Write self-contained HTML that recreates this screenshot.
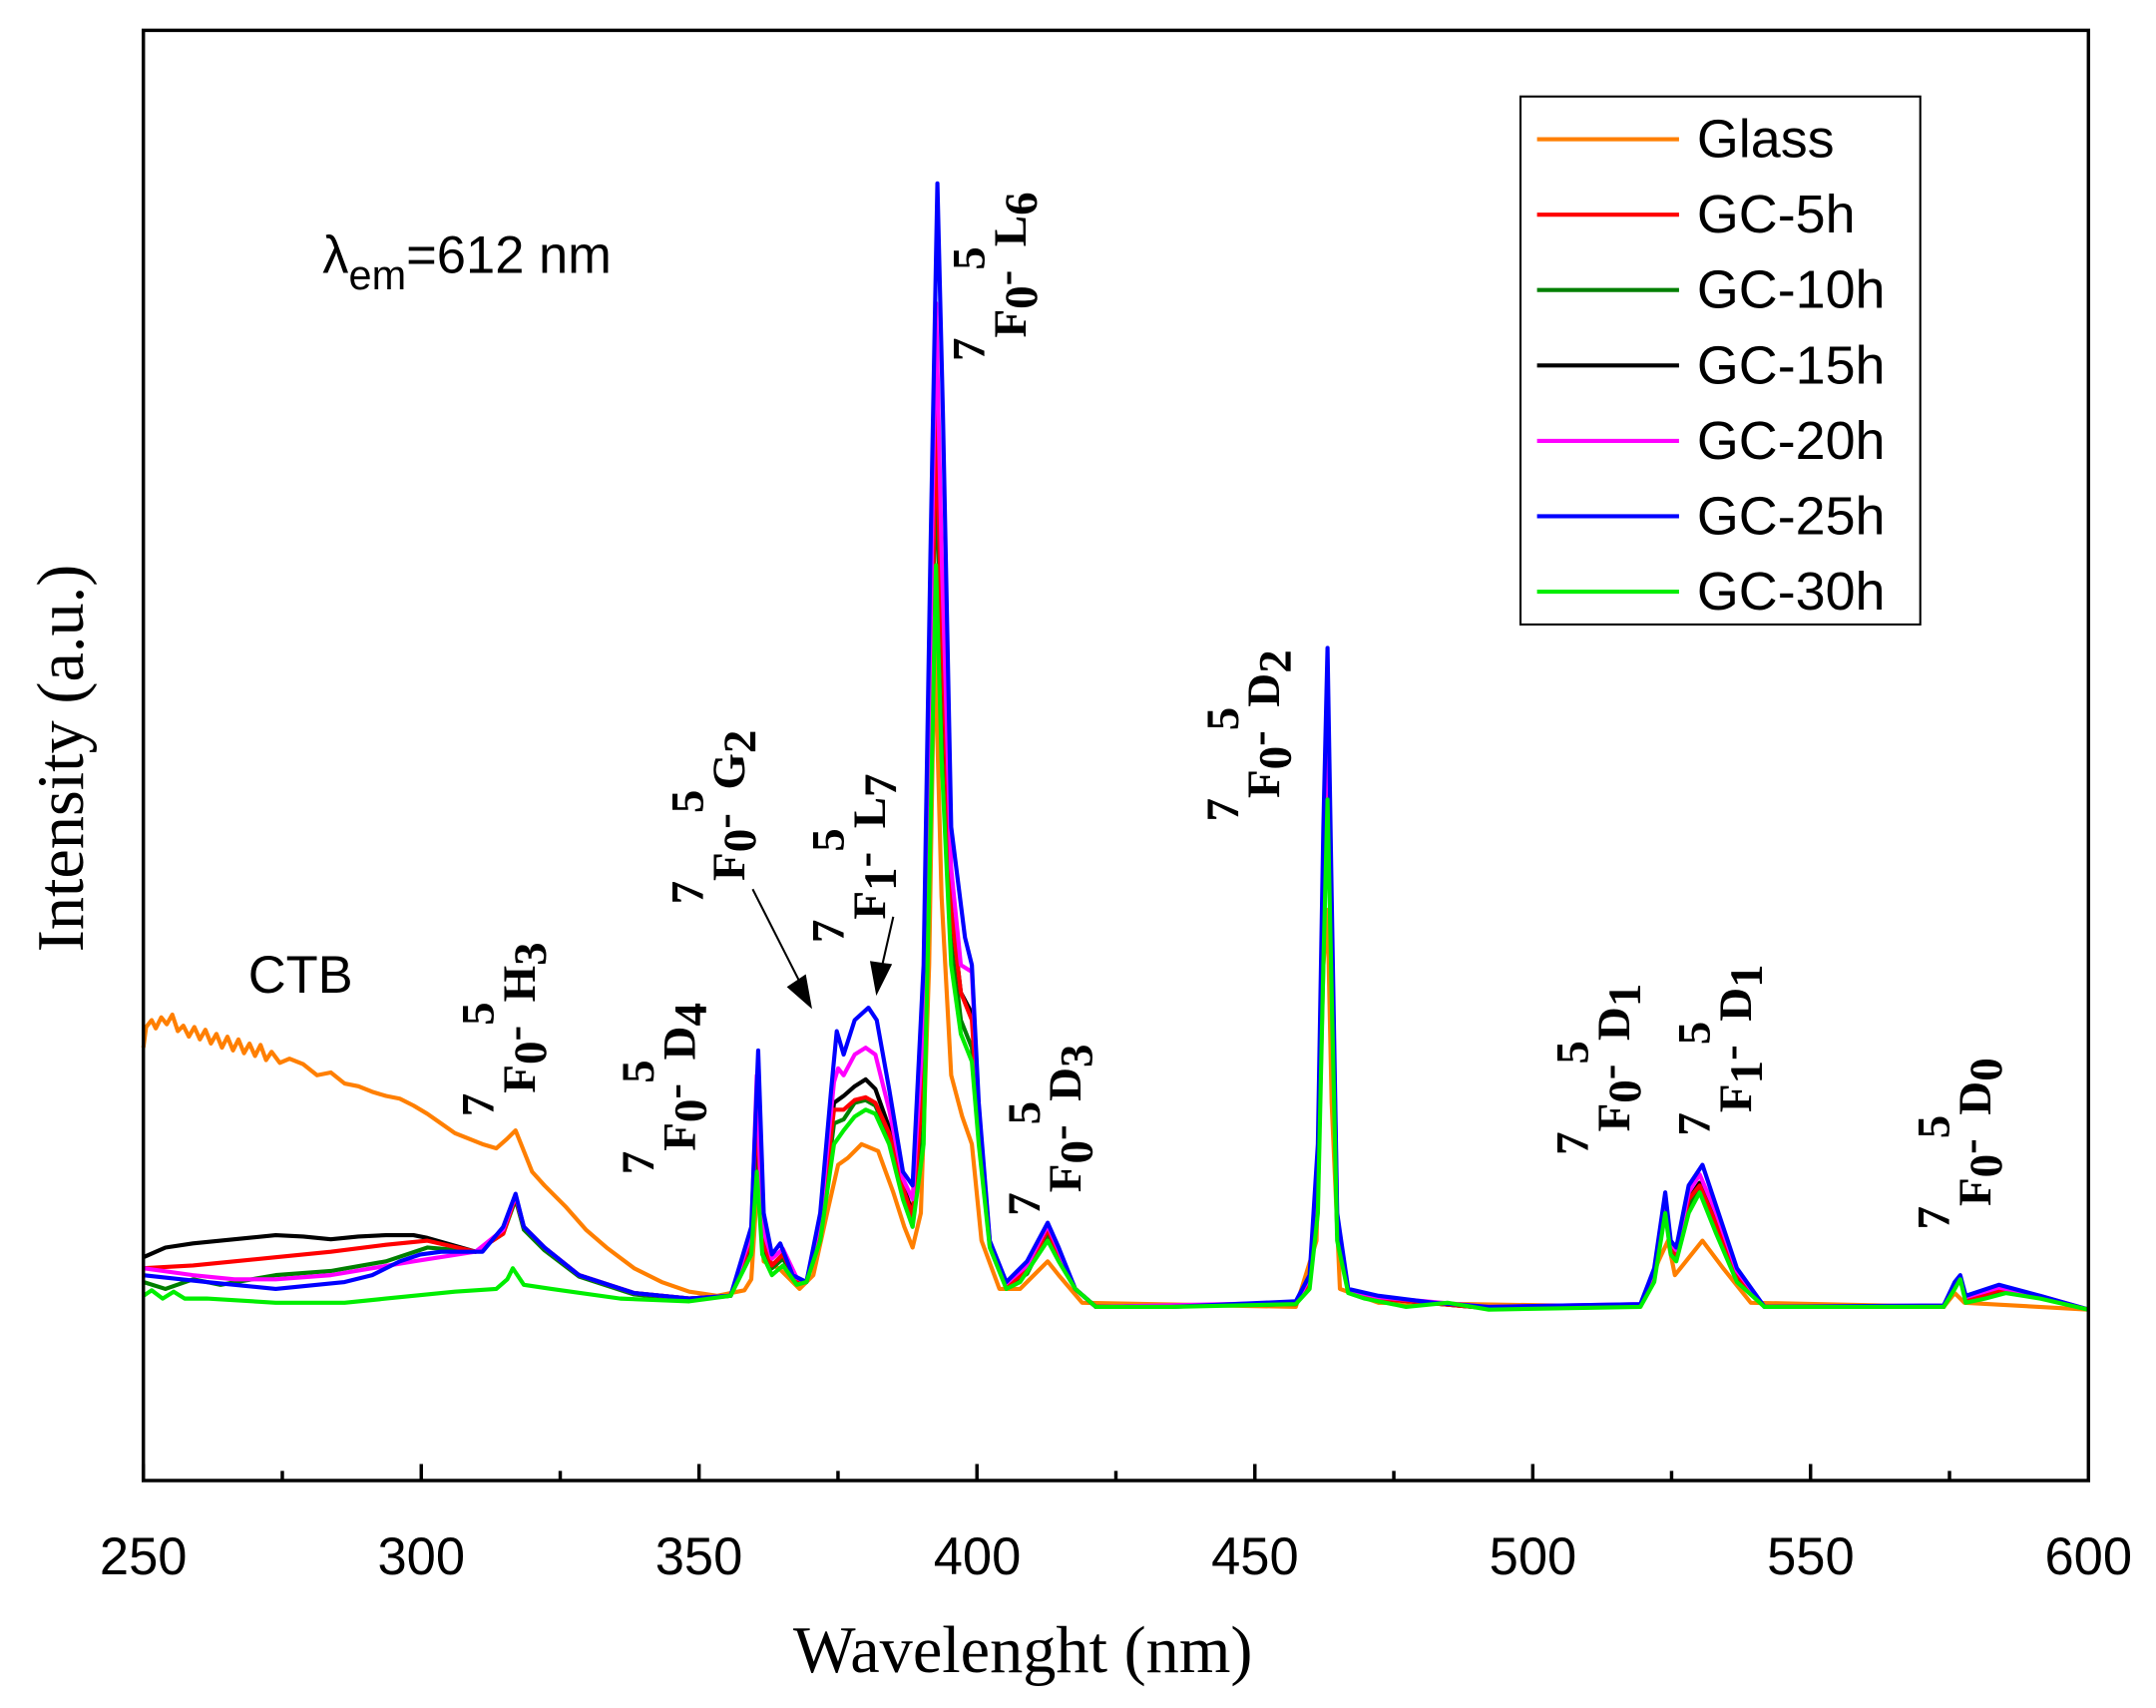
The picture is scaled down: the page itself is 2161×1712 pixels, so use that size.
<!DOCTYPE html>
<html><head><meta charset="utf-8"><style>html,body{margin:0;padding:0;background:#fff}svg{display:block}</style></head>
<body>
<svg xmlns="http://www.w3.org/2000/svg" width="2161" height="1712" viewBox="0 0 1564 1239" preserveAspectRatio="none">
<rect width="1564" height="1239" fill="#fff"/>
<g fill="none" stroke-width="3" stroke-linejoin="round">
<polyline stroke="#ff7f00" points="104,760 106,745 110,740 113,746 117,738 121,743 125,736 129,748 133,744 137,752 141,745 145,754 149,747 153,757 157,750 161,760 165,752 169,762 173,754 177,764 181,757 185,766 189,758 193,769 197,763 203,771 210,768 220,772 230,780 240,778 250,786 260,788 270,792 280,795 290,797 300,802 310,808 320,815 330,822 340,826 350,830 360,833 368,826 374,820 380,835 386,850 395,860 410,875 425,892 440,905 460,920 480,930 500,937 520,940 540,936 545,928 550,850 554,915 565,920 580,935 590,925 600,880 608,845 615,840 625,830 637,835 648,865 656,890 662,905 668,880 674,700 678,460 683,650 690,780 698,810 705,830 712,900 725,935 740,935 750,925 760,915 768,925 785,945 940,948 955,900 960,700 963,660 966,800 972,935 1000,945 1190,948 1203,915 1210,900 1215,925 1235,900 1250,920 1270,945 1410,948 1418,938 1425,945 1515,950"/>
<polyline stroke="#007f00" points="104,930 120,935 140,928 160,932 200,925 240,922 280,915 310,905 345,908 365,895 374,870 380,892 395,907 420,926 460,939 500,943 530,940 545,903 549,820 553,905 560,920 568,913 578,931 585,930 595,893 605,815 612,812 620,800 628,798 635,802 645,825 655,865 662,885 670,800 675,560 679,330 683,480 690,680 697,740 705,760 710,820 718,904 730,934 745,924 760,895 768,912 780,935 795,948 940,946 950,932 956,870 960,680 963,555 966,700 970,895 978,937 1000,942 1080,949 1190,947 1200,927 1208,875 1212,907 1216,912 1225,875 1233,860 1245,890 1260,927 1280,948 1410,948 1418,933 1422,927 1426,943 1450,937 1480,941 1515,950"/>
<polyline stroke="#000" points="104,912 120,905 140,902 160,900 180,898 200,896 220,897 240,899 260,897 280,896 300,896 310,898 345,908 365,894 374,868 380,890 395,905 420,925 460,938 500,942 530,940 545,900 549,800 553,900 560,918 568,910 578,930 585,930 595,890 605,800 612,795 620,788 628,783 635,790 645,818 655,860 662,880 670,780 675,520 679,290 683,450 690,660 697,720 705,735 710,815 718,903 730,933 745,922 760,892 768,910 780,935 795,948 940,946 950,930 956,860 960,660 963,540 966,690 970,890 978,937 1000,942 1080,949 1190,947 1200,925 1208,872 1212,905 1216,910 1225,870 1233,858 1245,888 1260,925 1280,948 1410,948 1418,932 1422,927 1426,943 1450,936 1480,941 1515,950"/>
<polyline stroke="#ff0000" points="104,920 140,918 170,915 200,912 240,908 280,903 310,900 345,908 365,895 374,868 380,890 395,905 420,925 460,938 500,942 530,940 545,900 549,800 553,900 560,918 568,910 578,930 585,930 595,890 605,805 612,805 620,798 628,796 635,800 645,822 655,862 662,882 670,780 675,520 679,300 683,450 690,660 697,720 705,740 710,815 718,903 730,933 745,922 760,892 768,910 780,935 795,948 940,946 950,930 956,860 960,660 963,540 966,690 970,890 978,937 1000,942 1080,949 1190,947 1200,925 1208,872 1212,905 1216,910 1225,870 1233,860 1245,888 1260,925 1280,948 1410,948 1418,932 1422,927 1426,943 1450,936 1480,941 1515,950"/>
<polyline stroke="#ff00ff" points="104,920 140,925 170,928 200,928 240,925 270,920 300,915 345,908 365,892 374,867 380,890 395,905 420,925 460,938 500,942 530,940 545,895 549,780 553,890 560,913 568,906 578,927 585,930 595,885 605,785 608,775 612,780 620,765 628,760 635,765 645,805 655,855 662,870 670,740 675,460 679,220 683,400 690,630 697,700 705,705 710,805 718,901 730,931 745,918 760,889 768,907 780,935 795,948 940,945 950,927 956,845 960,630 963,500 966,670 970,885 978,936 1000,941 1080,948 1190,946 1200,922 1208,868 1212,902 1216,907 1225,865 1233,852 1245,880 1260,922 1280,948 1410,947 1418,931 1422,926 1426,941 1450,934 1480,940 1515,950"/>
<polyline stroke="#0000ff" points="104,925 150,930 200,935 250,930 270,925 290,915 305,910 320,908 350,908 365,890 374,866 380,890 395,905 420,925 460,938 500,942 530,940 545,890 550,762 554,880 560,910 566,902 575,925 585,930 595,880 603,790 607,748 612,765 620,740 630,731 636,740 645,790 655,850 662,860 670,700 675,400 680,133 684,300 690,600 700,680 705,700 710,800 718,900 730,930 745,915 760,887 768,905 780,935 795,948 850,948 940,944 950,925 956,830 960,600 963,470 966,650 970,880 978,935 1000,940 1040,945 1080,948 1190,946 1200,920 1208,865 1212,900 1216,905 1225,860 1235,845 1245,875 1260,920 1280,948 1410,947 1418,930 1422,925 1426,940 1450,932 1480,940 1515,950"/>
<polyline stroke="#00ee00" points="104,940 110,936 118,942 126,937 134,942 150,942 200,945 250,945 280,942 300,940 330,937 360,935 368,928 372,920 380,932 400,935 450,942 500,944 530,940 545,910 549,850 553,910 560,925 568,918 578,932 585,930 595,900 605,830 612,820 620,810 628,805 635,808 645,830 655,870 662,890 670,830 675,600 679,410 683,550 690,700 697,750 705,770 710,830 718,905 730,935 740,930 752,912 760,900 768,915 780,935 795,948 850,948 940,946 950,935 956,880 960,700 963,580 966,720 970,900 978,938 990,942 1020,948 1050,945 1080,950 1190,948 1200,930 1208,880 1212,910 1216,915 1225,880 1233,865 1245,895 1260,930 1280,948 1410,948 1418,935 1422,928 1426,945 1440,942 1455,938 1480,942 1515,950"/>
</g>
<rect x="104" y="22" width="1411" height="1052" fill="none" stroke="#000" stroke-width="2.5"/>
<g stroke="#000" stroke-width="2.5">
<line x1="104" y1="1074" x2="104" y2="1062"/><line x1="204.8" y1="1074" x2="204.8" y2="1067"/><line x1="305.6" y1="1074" x2="305.6" y2="1062"/><line x1="406.4" y1="1074" x2="406.4" y2="1067"/><line x1="507.1" y1="1074" x2="507.1" y2="1062"/><line x1="607.9" y1="1074" x2="607.9" y2="1067"/><line x1="708.7" y1="1074" x2="708.7" y2="1062"/><line x1="809.5" y1="1074" x2="809.5" y2="1067"/><line x1="910.3" y1="1074" x2="910.3" y2="1062"/><line x1="1011.1" y1="1074" x2="1011.1" y2="1067"/><line x1="1111.9" y1="1074" x2="1111.9" y2="1062"/><line x1="1212.6" y1="1074" x2="1212.6" y2="1067"/><line x1="1313.4" y1="1074" x2="1313.4" y2="1062"/><line x1="1414.2" y1="1074" x2="1414.2" y2="1067"/>
</g>
<g font-family="Liberation Sans, sans-serif" font-size="38" text-anchor="middle">
<text x="104" y="1142">250</text><text x="305.6" y="1142">300</text><text x="507" y="1142">350</text><text x="708.9" y="1142">400</text><text x="910.4" y="1142">450</text><text x="1112" y="1142">500</text><text x="1313.5" y="1142">550</text><text x="1515" y="1142">600</text>
</g>
<text x="742" y="1213" font-family="Liberation Serif, serif" font-size="48" text-anchor="middle">Wavelenght (nm)</text>
<text transform="translate(60,550) rotate(-90)" font-family="Liberation Serif, serif" font-size="48" text-anchor="middle">Intensity (a.u.)</text>
<text x="234" y="198" font-family="Liberation Sans, sans-serif" font-size="38">λ<tspan font-size="30" dy="12">em</tspan><tspan dy="-12">=612 nm</tspan></text>
<text x="180" y="720" font-family="Liberation Sans, sans-serif" font-size="38">CTB</text>
<g font-family="Liberation Serif, serif" font-weight="bold" font-size="34">
<text transform="translate(358,810) rotate(-90)">7<tspan dy="30">F</tspan><tspan dy="8">0</tspan><tspan dy="-12">-</tspan><tspan dy="-26">5</tspan><tspan dy="30">H</tspan><tspan dy="8">3</tspan></text>
<text transform="translate(474,852) rotate(-90)">7<tspan dy="30">F</tspan><tspan dy="8">0</tspan><tspan dy="-12">-</tspan><tspan dy="-26">5</tspan><tspan dy="30">D</tspan><tspan dy="8">4</tspan></text>
<text transform="translate(510,656) rotate(-90)">7<tspan dy="30">F</tspan><tspan dy="8">0</tspan><tspan dy="-12">-</tspan><tspan dy="-26">5</tspan><tspan dy="30">G</tspan><tspan dy="8">2</tspan></text>
<text transform="translate(612,684) rotate(-90)">7<tspan dy="30">F</tspan><tspan dy="8">1</tspan><tspan dy="-12">-</tspan><tspan dy="-26">5</tspan><tspan dy="30">L</tspan><tspan dy="8">7</tspan></text>
<text transform="translate(714,262) rotate(-90)">7<tspan dy="30">F</tspan><tspan dy="8">0</tspan><tspan dy="-12">-</tspan><tspan dy="-26">5</tspan><tspan dy="30">L</tspan><tspan dy="8">6</tspan></text>
<text transform="translate(898,596) rotate(-90)">7<tspan dy="30">F</tspan><tspan dy="8">0</tspan><tspan dy="-12">-</tspan><tspan dy="-26">5</tspan><tspan dy="30">D</tspan><tspan dy="8">2</tspan></text>
<text transform="translate(754,882) rotate(-90)">7<tspan dy="30">F</tspan><tspan dy="8">0</tspan><tspan dy="-12">-</tspan><tspan dy="-26">5</tspan><tspan dy="30">D</tspan><tspan dy="8">3</tspan></text>
<text transform="translate(1152,838) rotate(-90)">7<tspan dy="30">F</tspan><tspan dy="8">0</tspan><tspan dy="-12">-</tspan><tspan dy="-26">5</tspan><tspan dy="30">D</tspan><tspan dy="8">1</tspan></text>
<text transform="translate(1240,824) rotate(-90)">7<tspan dy="30">F</tspan><tspan dy="8">1</tspan><tspan dy="-12">-</tspan><tspan dy="-26">5</tspan><tspan dy="30">D</tspan><tspan dy="8">1</tspan></text>
<text transform="translate(1414,892) rotate(-90)">7<tspan dy="30">F</tspan><tspan dy="8">0</tspan><tspan dy="-12">-</tspan><tspan dy="-26">5</tspan><tspan dy="30">D</tspan><tspan dy="8">0</tspan></text>
</g>
<g stroke="#000" stroke-width="1.5" fill="#000">
<line x1="546" y1="645" x2="580" y2="712"/><polygon points="588,730 572,716 584,708"/>
<line x1="648" y1="665" x2="640" y2="700"/><polygon points="636,720 632,698 646,700"/>
</g>
<rect x="1103" y="70" width="290" height="383" fill="#fff" stroke="#000" stroke-width="1.5"/>
<g stroke-width="3">
<line x1="1115" y1="101" x2="1218" y2="101" stroke="#ff7f00"/>
<line x1="1115" y1="155.7" x2="1218" y2="155.7" stroke="#ff0000"/>
<line x1="1115" y1="210.4" x2="1218" y2="210.4" stroke="#007f00"/>
<line x1="1115" y1="265.1" x2="1218" y2="265.1" stroke="#000"/>
<line x1="1115" y1="319.8" x2="1218" y2="319.8" stroke="#ff00ff"/>
<line x1="1115" y1="374.5" x2="1218" y2="374.5" stroke="#0000ff"/>
<line x1="1115" y1="429.2" x2="1218" y2="429.2" stroke="#00ee00"/>
</g>
<g font-family="Liberation Sans, sans-serif" font-size="39">
<text x="1231" y="114">Glass</text><text x="1231" y="168.7">GC-5h</text><text x="1231" y="223.4">GC-10h</text><text x="1231" y="278.1">GC-15h</text><text x="1231" y="332.8">GC-20h</text><text x="1231" y="387.5">GC-25h</text><text x="1231" y="442.2">GC-30h</text>
</g>
</svg>
</body></html>
